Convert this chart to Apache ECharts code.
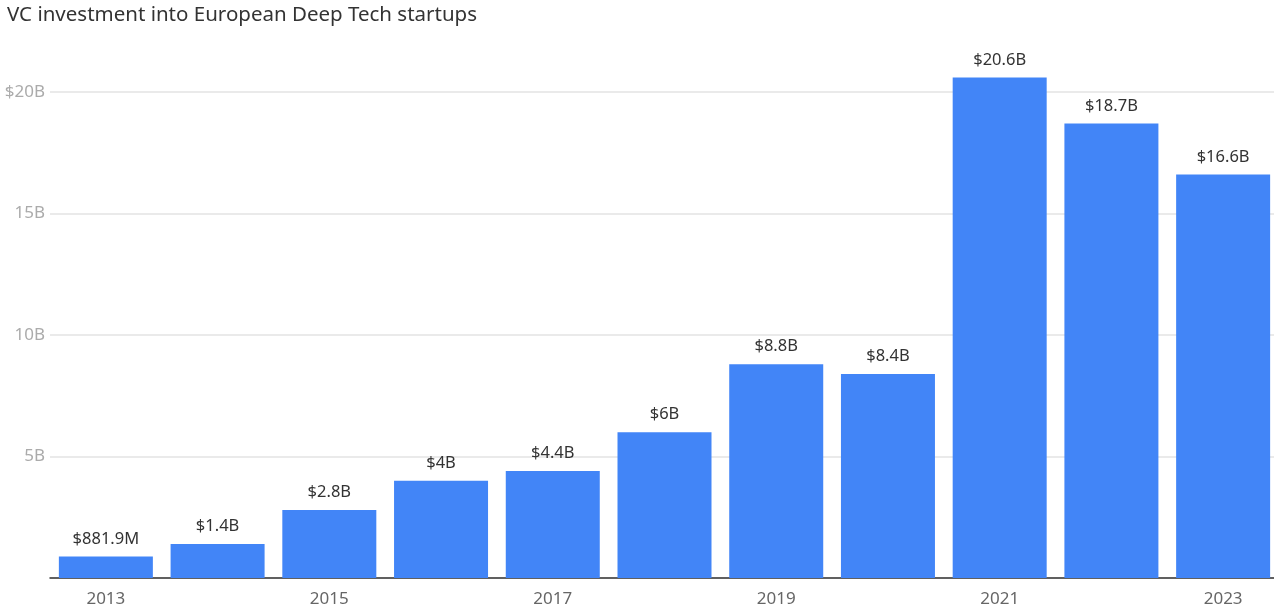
<!DOCTYPE html>
<html>
<head>
<meta charset="utf-8">
<script src="https://cdn.jsdelivr.net/npm/echarts@6/dist/echarts.min.js"></script>
<style>
  html, body { margin: 0; padding: 0; background: #fff; overflow: hidden; }
  #chart { width: 1282px; height: 614px; }
</style>
</head>
<body>
<div id="chart"></div>
<script>
// Annual VC investment into European deep tech, in billions of USD
const years = ['2013', '2014', '2015', '2016', '2017', '2018', '2019', '2020', '2021', '2022', '2023'];
const investment = [0.8819, 1.4, 2.8, 4, 4.4, 6, 8.8, 8.4, 20.6, 18.7, 16.6];
const yTicks = [0, 5, 10, 15, 20];
const yTickLabels = ['', '5B', '10B', '15B', '$20B'];

const FONT = '"Noto Sans", "Open Sans", sans-serif';

function money(v) {
  if (v < 1) return '$' + (v * 1000).toFixed(1) + 'M';
  return '$' + parseFloat(v.toFixed(1)) + 'B';
}

const chart = echarts.init(document.getElementById('chart'), null, { renderer: 'canvas' });
chart.setOption({
  animation: false,
  backgroundColor: '#ffffff',
  title: {
    text: 'VC investment into European Deep Tech startups',
    left: 2,
    top: 0,
    textStyle: { fontFamily: FONT, fontSize: 20.5, fontWeight: 'normal', color: '#333333' }
  },
  grid: { left: 50, right: 3, top: 92, bottom: 36, containLabel: false },
  xAxis: {
    type: 'category',
    data: years,
    axisLine: { lineStyle: { color: '#333333', width: 1.5 } },
    axisTick: { show: false },
    axisLabel: {
      interval: 1,
      margin: 13,
      fontFamily: FONT,
      fontSize: 17,
      color: '#666666'
    }
  },
  yAxis: {
    type: 'value',
    min: 0,
    max: 20,
    interval: 5,
    axisLine: { show: false },
    axisTick: { show: false },
    splitLine: { lineStyle: { color: '#e3e3e3', width: 1.5 } },
    axisLabel: {
      margin: 5,
      fontFamily: FONT,
      fontSize: 17,
      color: '#ababab',
      formatter: function (v) {
        const i = yTicks.indexOf(v);
        return i >= 0 ? yTickLabels[i] : '';
      }
    }
  },
  series: [{
    type: 'bar',
    data: investment,
    barWidth: 94,
    clip: false,
    itemStyle: { color: '#4285f7' },
    label: {
      show: true,
      position: 'top',
      distance: 9,
      fontFamily: FONT,
      fontSize: 16.5,
      color: '#333333',
      formatter: function (p) { return money(p.value); }
    }
  }]
});
</script>
</body>
</html>
